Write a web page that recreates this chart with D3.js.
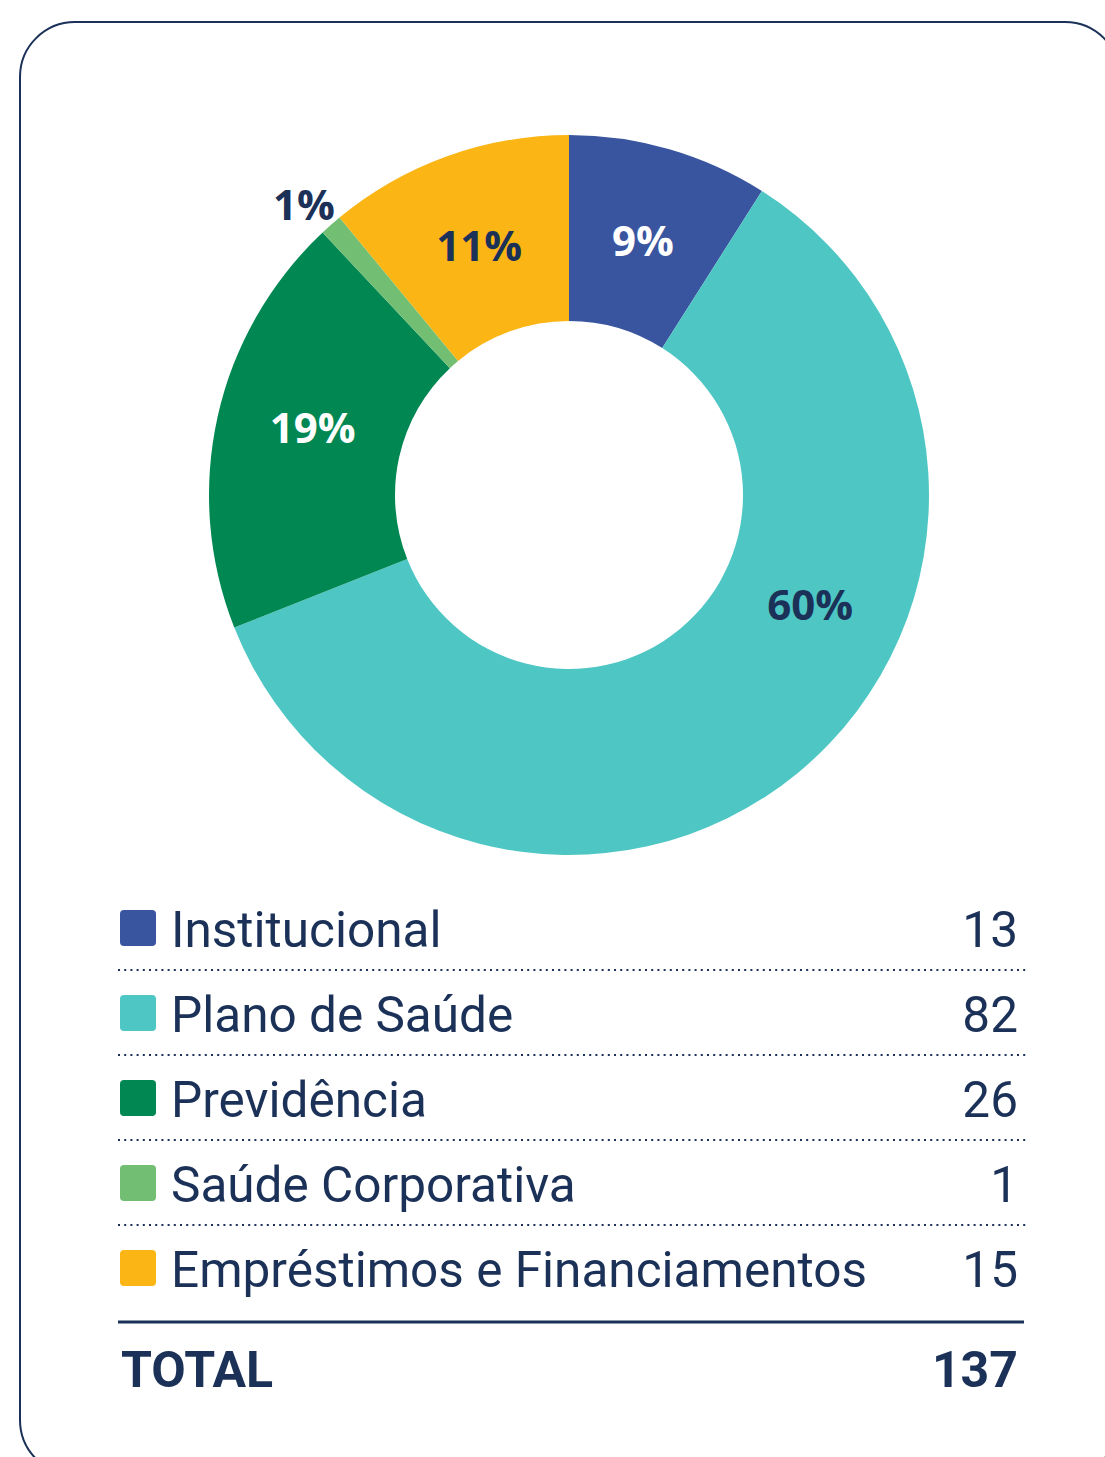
<!DOCTYPE html>
<html><head><meta charset="utf-8">
<script src="https://cdn.jsdelivr.net/npm/d3@7"></script>
<style>
html,body{margin:0;padding:0;background:#fff;}
svg{display:block;}
</style></head>
<body>
<svg id="chart" width="1105" height="1457"></svg>
<script>
const categories = ["Institucional","Plano de Saúde","Previdência","Saúde Corporativa","Empréstimos e Financiamentos"];
const values = [13, 82, 26, 1, 15];
const percentLabels = ["9%","60%","19%","1%","11%"];
const colors = ["#3a559f","#4ec7c4","#008752","#72bf73","#fbb616"];
const labelColors = ["#ffffff","#1b3158","#ffffff","#1b3158","#1b3158"];
const labelOutside = [false,false,false,true,false];
const labelAngleFrac = [0.5,0.38,0.53,0.22,0.5];
const totalLabel = "TOTAL";
const total = d3.sum(values);
const percents = values.map(v => Math.round(v / total * 100));

const navy = "#1b3158";
const svg = d3.select("#chart");

// card
svg.append("rect").attr("x",20).attr("y",22).attr("width",1100).attr("height",1453)
  .attr("rx",55).attr("ry",55).attr("fill","#fff").attr("stroke",navy).attr("stroke-width",2);

const cx = 569, cy = 495, rOuter = 360, rInner = 174;
const pie = d3.pie().sort(null).value(d=>d)(percents);
const arc = d3.arc().innerRadius(rInner).outerRadius(rOuter);
const g = svg.append("g").attr("transform",`translate(${cx},${cy})`);
g.selectAll("path.slice").data(pie).join("path").attr("class","slice")
  .attr("d",arc).attr("fill",(d,i)=>colors[i]);

const labelArc = d3.arc().innerRadius(265).outerRadius(265);
const outArc = d3.arc().innerRadius(393).outerRadius(393);
g.selectAll("text.pct").data(pie).join("text").attr("class","pct")
  .attr("transform",(d,i)=>{
    const a = d.startAngle + (d.endAngle-d.startAngle)*labelAngleFrac[i];
    const p = (labelOutside[i]?outArc:labelArc).centroid({startAngle:a,endAngle:a});
    return `translate(${p[0]},${p[1]})`;
  })
  .attr("text-anchor","middle").attr("dy","0.36em")
  .attr("font-family","'Open Sans', sans-serif").attr("font-weight",700)
  .attr("font-size",42).attr("fill",(d,i)=>labelColors[i])
  .text((d,i)=>percentLabels[i]);

// legend table
const rowY = d3.scalePoint().domain(d3.range(categories.length)).range([947, 1287]);
const left = 118, right = 1026, valX = 1018;
const lg = svg.append("g");
categories.forEach((c,i)=>{
  const y = rowY(i);
  lg.append("rect").attr("x",120).attr("y",y-37).attr("width",36).attr("height",36)
    .attr("rx",4).attr("fill",colors[i]);
  lg.append("text").attr("x",171).attr("y",y).attr("font-family","Roboto, sans-serif")
    .attr("font-size",49.5).attr("fill",navy).text(c);
  lg.append("text").attr("x",valX).attr("y",y).attr("text-anchor","end")
    .attr("font-family","Roboto, sans-serif").attr("font-size",49.5).attr("fill",navy).text(values[i]);
  if(i < categories.length-1){
    lg.append("line").attr("x1",left).attr("x2",right).attr("y1",y+23).attr("y2",y+23)
      .attr("stroke",navy).attr("stroke-width",2.2).attr("stroke-dasharray","2 4.2");
  }
});
lg.append("line").attr("x1",118).attr("x2",1024).attr("y1",1322).attr("y2",1322)
  .attr("stroke",navy).attr("stroke-width",3);
lg.append("text").attr("x",121).attr("y",1387).attr("font-family","Roboto, sans-serif")
  .attr("font-weight",700).attr("font-size",50).attr("fill",navy).text(totalLabel);
lg.append("text").attr("x",valX).attr("y",1387).attr("text-anchor","end").attr("font-family","Roboto, sans-serif")
  .attr("font-weight",700).attr("font-size",50).attr("fill",navy).text(total);
</script>
</body></html>
